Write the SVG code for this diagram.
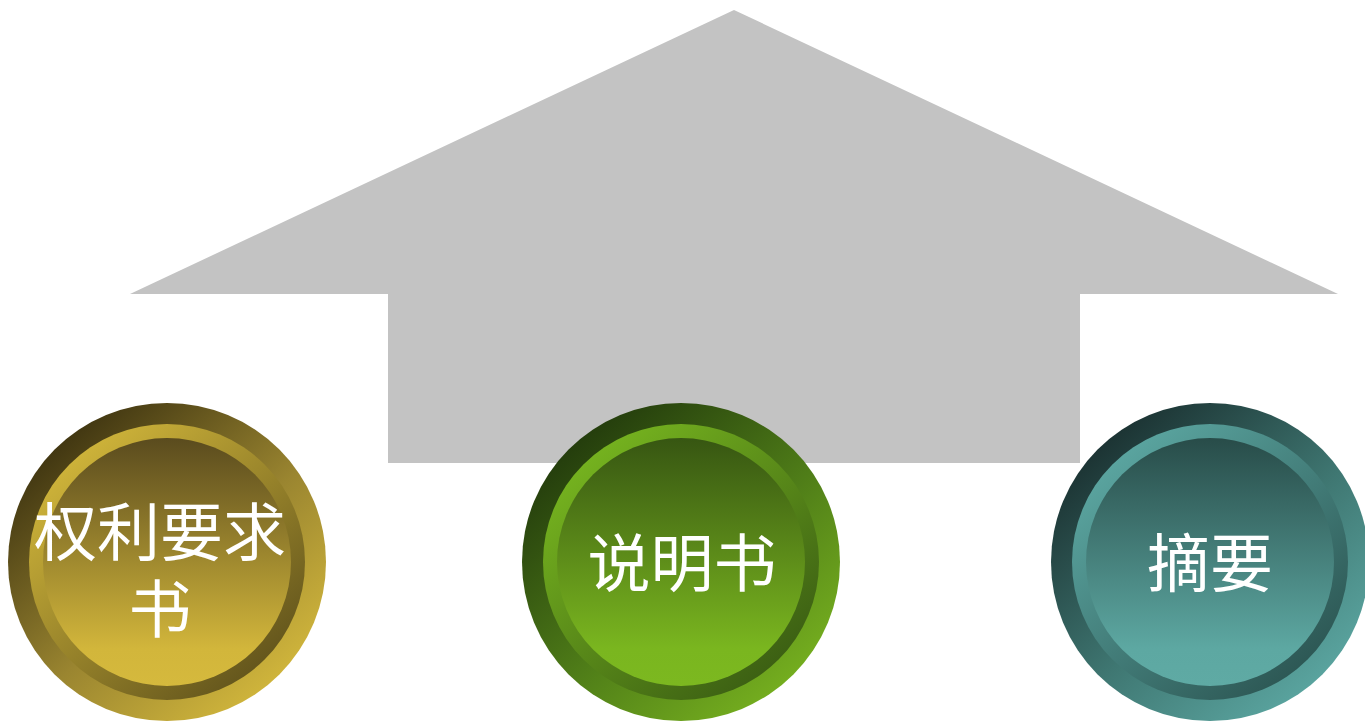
<svg xmlns="http://www.w3.org/2000/svg" width="1365" height="721" viewBox="0 0 1365 721">
<style>
.lbl{font-family:"Noto Sans CJK SC","Noto Sans CJK JP",sans-serif;font-size:63px;fill:#ffffff;text-anchor:middle;dominant-baseline:central}
</style>
<defs>
<linearGradient id="gOut" x1="0.15" y1="0.1" x2="0.85" y2="0.9"><stop offset="0" stop-color="#3d3310"/><stop offset="0.55" stop-color="#9a8530"/><stop offset="1" stop-color="#d2b73c"/></linearGradient>
<linearGradient id="gRing" x1="0.15" y1="0.1" x2="0.85" y2="0.9"><stop offset="0" stop-color="#d0b53a"/><stop offset="1" stop-color="#62541c"/></linearGradient>
<linearGradient id="gFace" x1="0" y1="0" x2="0" y2="1"><stop offset="0" stop-color="#5a4b1e"/><stop offset="0.85" stop-color="#d2b63b"/><stop offset="1" stop-color="#d5b93d"/></linearGradient>
<linearGradient id="vOut" x1="0.15" y1="0.1" x2="0.85" y2="0.9"><stop offset="0" stop-color="#223a0c"/><stop offset="0.55" stop-color="#4f7d18"/><stop offset="1" stop-color="#76b01f"/></linearGradient>
<linearGradient id="vRing" x1="0.15" y1="0.1" x2="0.85" y2="0.9"><stop offset="0" stop-color="#76b41f"/><stop offset="1" stop-color="#3b5e13"/></linearGradient>
<linearGradient id="vFace" x1="0" y1="0" x2="0" y2="1"><stop offset="0" stop-color="#375612"/><stop offset="0.85" stop-color="#7ab61f"/><stop offset="1" stop-color="#7cb820"/></linearGradient>
<linearGradient id="tOut" x1="0.15" y1="0.1" x2="0.85" y2="0.9"><stop offset="0" stop-color="#1a3030"/><stop offset="0.55" stop-color="#3f7772"/><stop offset="1" stop-color="#5ba6a1"/></linearGradient>
<linearGradient id="tRing" x1="0.15" y1="0.1" x2="0.85" y2="0.9"><stop offset="0" stop-color="#5ba6a1"/><stop offset="1" stop-color="#2c5653"/></linearGradient>
<linearGradient id="tFace" x1="0" y1="0" x2="0" y2="1"><stop offset="0" stop-color="#284c49"/><stop offset="0.85" stop-color="#5da8a2"/><stop offset="1" stop-color="#5faaa4"/></linearGradient>
</defs>
<g id="house">
<polygon points="734,10 1338,294 1080,294 1080,463 388,463 388,294 130,294" fill="#c3c3c3"/>
</g>
<g id="connectors"></g>
<g id="node-claims">
<circle cx="167" cy="562" r="159" fill="url(#gOut)"/>
<circle cx="167" cy="562" r="138" fill="url(#gRing)"/>
<circle cx="167" cy="562" r="124" fill="url(#gFace)"/>
<text class="lbl"><tspan x="160" y="527">权利要求</tspan><tspan x="160" y="604">书</tspan></text>
</g>
<g id="node-spec">
<circle cx="681" cy="562" r="159" fill="url(#vOut)"/>
<circle cx="681" cy="562" r="138" fill="url(#vRing)"/>
<circle cx="681" cy="562" r="124" fill="url(#vFace)"/>
<text class="lbl" x="682" y="558">说明书</text>
</g>
<g id="node-abstract">
<circle cx="1210" cy="562" r="159" fill="url(#tOut)"/>
<circle cx="1210" cy="562" r="138" fill="url(#tRing)"/>
<circle cx="1210" cy="562" r="124" fill="url(#tFace)"/>
<text class="lbl" x="1210" y="558">摘要</text>
</g>
</svg>
